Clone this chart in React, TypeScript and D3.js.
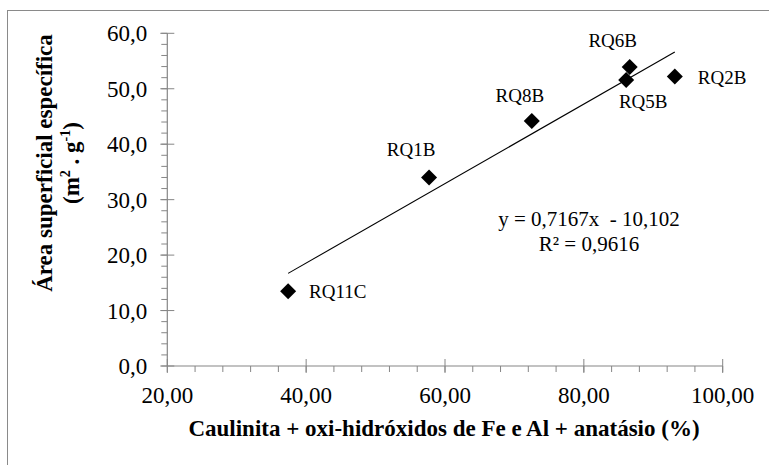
import React from "react";
import * as d3 from "d3";

// ---- data ----
const sampleNames = ["RQ11C", "RQ1B", "RQ8B", "RQ6B", "RQ5B", "RQ2B"];
const xValues = [37.4, 57.7, 72.5, 86.6, 86.1, 93.1];
const yValues = [13.5, 34.0, 44.2, 53.9, 51.6, 52.2];
const trendSlope = 0.7167;
const trendIntercept = -10.102;
const equationLines = ["y = 0,7167x  - 10,102", "R² = 0,9616"];
const xTicks = [20, 40, 60, 80, 100];
const yTicks = [0, 10, 20, 30, 40, 50, 60];
const xTitle = "Caulinita + oxi-hidróxidos de Fe e Al + anatásio (%)";
const yTitleLine1 = "Área superficial específica";

// ---- layout (label offsets relative to their point) ----
const labelOffsets = [
  { dx: 21, dy: 7, anchor: "start" },
  { dx: -18, dy: -21, anchor: "middle" },
  { dx: -12, dy: -19, anchor: "middle" },
  { dx: -17, dy: -20, anchor: "middle" },
  { dx: 17, dy: 28, anchor: "middle" },
  { dx: 23, dy: 7, anchor: "start" },
];

const W = 769;
const H = 465;
const FONT = "'Liberation Serif', 'Times New Roman', serif";
const AXIS = "#868686";

export default function App() {
  const x = d3.scaleLinear().domain([20, 100]).range([167.3, 722.7]);
  const y = d3.scaleLinear().domain([0, 60]).range([366, 33.3]);
  const fmtX = (v: number) => d3.format(".2f")(v).replace(".", ",");
  const fmtY = (v: number) => d3.format(".1f")(v).replace(".", ",");
  const xMinor = d3.range(20, 100.001, 4);
  const yMinor = d3.range(0, 60.001, 2);
  const diamond = d3.symbol(d3.symbolSquare, 128)()!;
  const xMin = d3.min(xValues)!;
  const xMax = d3.max(xValues)!;
  const line = d3
    .line<number>()
    .x((v) => x(v))
    .y((v) => y(trendSlope * v + trendIntercept));
  const y0 = y.range()[0];
  const x0 = x.range()[0];

  return (
    <svg
      width={W}
      height={H}
      style={{ position: "absolute", left: 0, top: 0, background: "#fff" }}
      fontFamily={FONT}
    >
      <rect x={7.5} y={10.5} width={W + 10} height={H + 10} fill="#fff" stroke="#8a8a8a" strokeWidth={1} />
      {/* y axis */}
      <line x1={x0} x2={x0} y1={y(60)} y2={y0} stroke={AXIS} strokeWidth={1.2} />
      {yMinor.map((v) => (
        <line key={"ym" + v} x1={x0 - 6} x2={x0} y1={y(v)} y2={y(v)} stroke={AXIS} strokeWidth={1} />
      ))}
      {yTicks.map((v) => (
        <g key={"yt" + v}>
          <line x1={x0 - 7} x2={x0 + 7} y1={y(v)} y2={y(v)} stroke={AXIS} strokeWidth={1} />
          <text x={x0 - 20} y={y(v)} dy="0.35em" textAnchor="end" fontSize={23} fill="#000">
            {fmtY(v)}
          </text>
        </g>
      ))}
      {/* x axis */}
      <line x1={x0} x2={x(100)} y1={y0} y2={y0} stroke={AXIS} strokeWidth={1.2} />
      {xMinor.map((v) => (
        <line key={"xm" + v} x1={x(v)} x2={x(v)} y1={y0} y2={y0 + 6} stroke={AXIS} strokeWidth={1} />
      ))}
      {xTicks.map((v) => (
        <g key={"xt" + v}>
          <line x1={x(v)} x2={x(v)} y1={y0 - 7} y2={y0 + 7} stroke={AXIS} strokeWidth={1} />
          <text x={x(v)} y={403} textAnchor="middle" fontSize={23} fill="#000">
            {fmtX(v)}
          </text>
        </g>
      ))}
      {/* trendline */}
      <path d={line([xMin, xMax])!} stroke="#000" strokeWidth={1.1} fill="none" />
      {/* points */}
      {xValues.map((xv, i) => (
        <path
          key={"p" + i}
          d={diamond}
          transform={`translate(${x(xv)},${y(yValues[i])}) rotate(45)`}
          fill="#000"
        />
      ))}
      {sampleNames.map((n, i) => (
        <text
          key={"l" + i}
          x={x(xValues[i]) + labelOffsets[i].dx}
          y={y(yValues[i]) + labelOffsets[i].dy}
          textAnchor={labelOffsets[i].anchor as any}
          fontSize={19}
          fill="#000"
        >
          {n}
        </text>
      ))}
      {/* equation */}
      <text x={589} y={226} textAnchor="middle" fontSize={21} fill="#000" style={{ whiteSpace: "pre" }}>
        {equationLines[0]}
      </text>
      <text x={589} y={251} textAnchor="middle" fontSize={21} fill="#000">
        {equationLines[1]}
      </text>
      {/* axis titles */}
      <text x={444} y={436} textAnchor="middle" fontSize={23} fontWeight="bold" fill="#000">
        {xTitle}
      </text>
      <g transform="translate(52,163) rotate(-90)">
        <text x={0} y={0} textAnchor="middle" fontSize={23} fontWeight="bold" fill="#000">
          {yTitleLine1}
        </text>
        <text x={0} y={27} textAnchor="middle" fontSize={23} fontWeight="bold" fill="#000">
          (m<tspan fontSize={14} dy={-9}>2</tspan>
          <tspan dy={9}> . g</tspan>
          <tspan fontSize={14} dy={-9}>-1</tspan>
          <tspan dy={9}>)</tspan>
        </text>
      </g>
    </svg>
  );
}
